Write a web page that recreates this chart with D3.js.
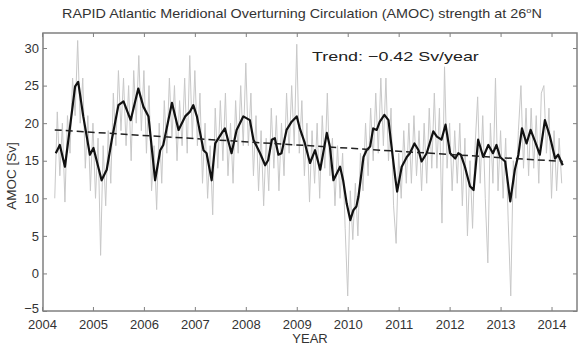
<!DOCTYPE html>
<html>
<head>
<meta charset="utf-8">
<script src="https://cdn.jsdelivr.net/npm/d3@7"></script>
<style>
html,body{margin:0;padding:0;background:#fff;}
svg{display:block;font-family:"Liberation Sans",Arial,Helvetica,sans-serif;}
</style>
</head>
<body>
<svg id="chart" width="580" height="348"></svg>
<script>
// ---- data ----
const xTicks = [2004,2005,2006,2007,2008,2009,2010,2011,2012,2013,2014];
const yTicks = [-5,0,5,10,15,20,25,30];

// smoothed (black) series
const smoothYears = [2004.27,2004.35,2004.45,2004.55,2004.65,2004.71,2004.81,2004.94,2005.01,2005.17,2005.27,2005.37,2005.50,2005.60,2005.74,2005.89,2005.99,2006.09,2006.22,2006.32,2006.38,2006.55,2006.68,2006.81,2006.90,2006.97,2007.04,2007.17,2007.23,2007.33,2007.40,2007.53,2007.59,2007.72,2007.82,2007.95,2008.08,2008.15,2008.28,2008.38,2008.44,2008.51,2008.57,2008.64,2008.70,2008.80,2008.90,2009.00,2009.06,2009.16,2009.26,2009.36,2009.46,2009.59,2009.65,2009.72,2009.85,2009.91,2009.98,2010.05,2010.11,2010.17,2010.21,2010.31,2010.37,2010.44,2010.50,2010.57,2010.63,2010.72,2010.80,2010.86,2010.93,2010.97,2011.06,2011.16,2011.22,2011.31,2011.39,2011.45,2011.55,2011.68,2011.75,2011.84,2011.92,2012.01,2012.11,2012.17,2012.22,2012.30,2012.40,2012.47,2012.56,2012.66,2012.76,2012.85,2012.92,2012.99,2013.09,2013.19,2013.28,2013.35,2013.42,2013.51,2013.59,2013.68,2013.77,2013.87,2013.97,2014.07,2014.13,2014.22];
const smoothValues = [16.0,17.1,14.2,19.5,24.9,25.5,20.9,15.8,16.7,12.4,13.8,17.8,22.4,22.9,20.4,24.6,22.2,20.9,12.4,16.4,17.1,22.7,19.1,20.9,21.5,22.4,20.9,16.4,16.0,12.4,17.3,18.7,19.3,16.0,19.1,20.9,20.4,17.8,16.0,14.4,15.1,17.8,18.0,15.8,16.0,19.1,20.2,20.9,19.3,17.3,14.7,16.4,13.8,18.7,16.9,12.4,14.2,12.4,9.3,7.1,8.4,8.9,10.2,15.5,16.4,16.9,19.3,19.1,20.2,21.1,20.4,16.9,12.9,10.9,14.2,15.5,16.0,17.3,16.4,14.9,16.0,18.9,18.2,17.8,19.8,16.0,15.3,16.0,15.8,14.2,11.6,11.1,17.8,15.5,17.1,16.0,17.1,15.5,14.9,9.6,13.8,15.8,19.3,17.3,19.1,17.5,15.8,20.4,18.2,15.3,15.8,14.4];

// raw (grey) series, one value every 0.05 year from 2004.25
const rawStart = 2004.25;
const rawStep = 0.05;
const rawValues = [
 10,21.5,13,20,9.5,21,16,26,21,31,20,26,14,21,11,
 20,10,18,2.4,17,9,19,12,24,17,27,19,26,17,25,15,27,20,29,19,
 27,16,25,11,17,8.5,20,12,23,16,26,18,25,15,23,17,26,16,29,18,
 27,17,24,12,20,10,17,7.8,22,14,23,15,24,13,20,12,23,16,25,17,
 28,17,24,13,21,11,19,9,18,11,22,14,21,11,20,13,24,16,25,17,
 30.5,16,23,13,20,9.5,19,12,20,10,21,14,24,13,18,9,17,10,16,6,
 -3,11,4.5,12,5,16,11,20,13,22,15,24,16,26,17,26,15,22,9,4,
 16,10,19,12,20,12,21,13,19,11,20,12,22,14,24,14,22,6.7,27.5,14,
 20,11,19,12,20,9,18,5,15,6,17,23.5,12,21,10,1.4,20,12,26,11,
 19,10,18,7,-3,15,10,19,25,14,22,13,22,14,21,12,24,25,16,22,
 10,19,11,18,12
];

// linear trend (-0.42 Sv/year)
const trendYears = [2004.25, 2014.22];
const trendValues = [19.1, 14.9];

const titleText = "RAPID Atlantic Meridional Overturning Circulation (AMOC) strength at 26";
const trendLabel = "Trend: \u22120.42 Sv/year";

// ---- chart ----
const svg = d3.select("#chart");
const pLeft = 43, pRight = 577, pTop = 33, pBottom = 311;

const x = d3.scaleLinear().domain([2004, 2014.5]).range([42, 577]);
const y = d3.scaleLinear().domain([-5, 32]).range([pBottom, pTop]);

svg.append("defs").append("clipPath").attr("id","clip")
  .append("rect").attr("x",pLeft).attr("y",pTop).attr("width",pRight-pLeft).attr("height",pBottom-pTop);

const plot = svg.append("g").attr("clip-path","url(#clip)");

const raw = rawValues.map((v,i)=>({t: rawStart + i*rawStep, v}));
plot.append("path")
  .attr("d", d3.line().x(d=>x(d.t)).y(d=>y(d.v))(raw))
  .attr("fill","none").attr("stroke","#c8c8c8").attr("stroke-width",1);

const smooth = smoothYears.map((t,i)=>({t, v: smoothValues[i]}));
plot.append("path")
  .attr("d", d3.line().x(d=>x(d.t)).y(d=>y(d.v))(smooth))
  .attr("fill","none").attr("stroke","#111").attr("stroke-width",2.2).attr("stroke-linejoin","round");

const trend = trendYears.map((t,i)=>({t, v: trendValues[i]}));
plot.append("path")
  .attr("d", d3.line().x(d=>x(d.t)).y(d=>y(d.v))(trend))
  .attr("fill","none").attr("stroke","#222").attr("stroke-width",1.5).attr("stroke-dasharray","7,4");

// axes
const axisColor = "#808080";
const fontCol = "#333";
function styleAxis(g){
  g.select(".domain").remove();
  g.selectAll(".tick line").attr("stroke",axisColor).attr("stroke-width",1);
  g.selectAll(".tick text").attr("fill",fontCol).attr("font-size","13px")
    .attr("font-family","Liberation Sans, Arial, sans-serif");
}
const xb = svg.append("g").attr("transform",`translate(0,${pBottom})`)
  .call(d3.axisBottom(x).tickValues(xTicks).tickFormat(d3.format("d")).tickSizeInner(-4).tickSizeOuter(0).tickPadding(9));
styleAxis(xb);
const xt = svg.append("g").attr("transform",`translate(0,${pTop})`)
  .call(d3.axisTop(x).tickValues(xTicks).tickFormat("").tickSizeInner(-4).tickSizeOuter(0));
styleAxis(xt);
const yl = svg.append("g").attr("transform",`translate(${pLeft},0)`)
  .call(d3.axisLeft(y).tickValues(yTicks).tickFormat(d3.format("d")).tickSizeInner(-4).tickSizeOuter(0).tickPadding(4));
styleAxis(yl);
yl.selectAll(".tick text").filter(d => d === -5).attr("dy","0.1em");
const yr = svg.append("g").attr("transform",`translate(${pRight},0)`)
  .call(d3.axisRight(y).tickValues(yTicks).tickFormat("").tickSizeInner(-4).tickSizeOuter(0));
styleAxis(yr);

svg.append("rect").attr("x",pLeft).attr("y",pTop).attr("width",pRight-pLeft).attr("height",pBottom-pTop)
  .attr("fill","none").attr("stroke",axisColor).attr("stroke-width",1.5);

// fit a text element horizontally into [x0, x0+w]
function fitText(sel, x0, w, yb){
  const bw = sel.node().getBBox().width;
  sel.attr("x",0).attr("y",0).attr("text-anchor","start")
     .attr("transform",`translate(${x0},${yb}) scale(${w/bw},1)`);
}

// title
const title = svg.append("text").attr("font-size","12.5px").attr("fill",fontCol);
title.append("tspan").text(titleText);
title.append("tspan").attr("dy",-5).attr("font-size","8px").text("o");
title.append("tspan").attr("dy",5).text("N");
fitText(title, 62, 480, 18);

const tr = svg.append("text").attr("font-size","13px").attr("fill","#222").text(trendLabel);
fitText(tr, 312, 168, 61);

svg.append("text").attr("x",310).attr("y",343).attr("text-anchor","middle")
  .attr("font-size","13px").attr("fill",fontCol).text("YEAR");

svg.append("text").attr("transform","translate(16,176) rotate(-90)").attr("text-anchor","middle")
  .attr("font-size","13.5px").attr("fill",fontCol).text("AMOC [Sv]");
</script>
</body>
</html>
